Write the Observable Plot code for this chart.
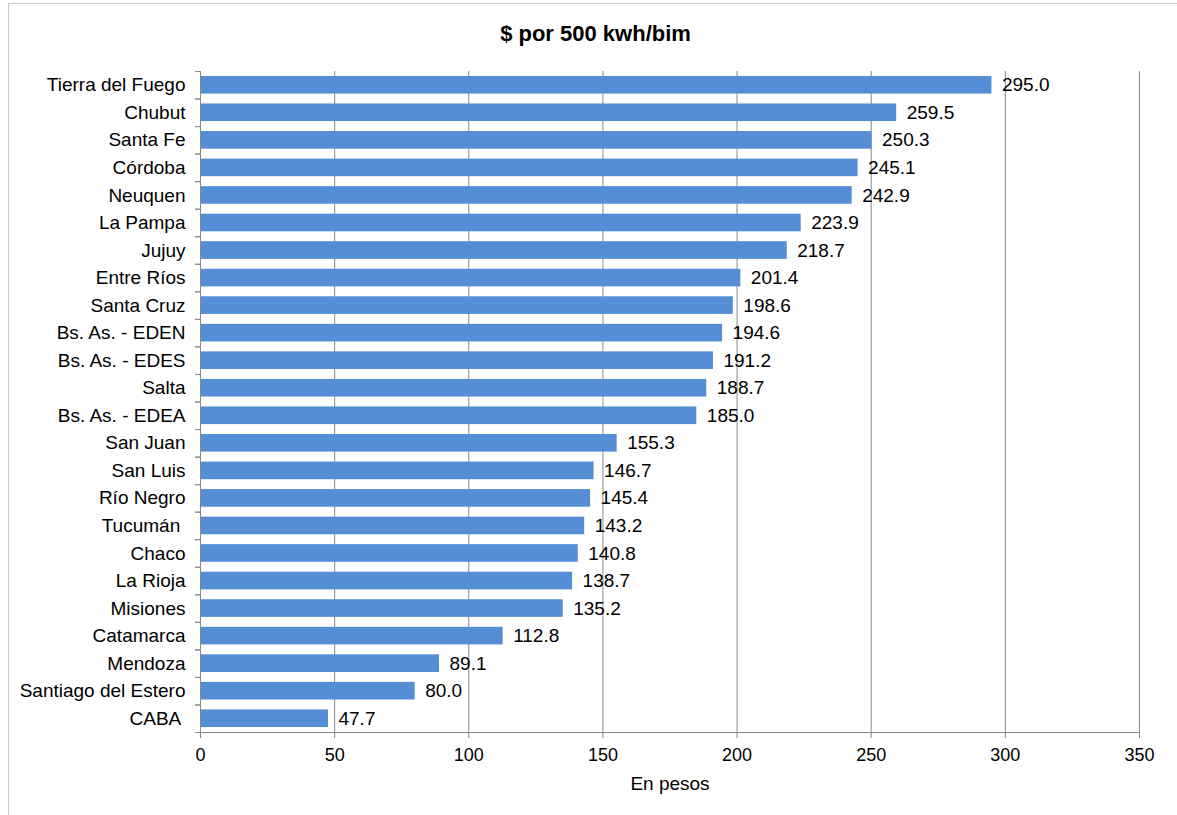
<!DOCTYPE html>
<html>
<head>
<meta charset="utf-8">
<script src="https://cdn.jsdelivr.net/npm/d3@7"></script>
<script src="https://cdn.jsdelivr.net/npm/@observablehq/plot@0.6"></script>
<style>
  html, body { margin: 0; padding: 0; background: #fff; }
  body { width: 1177px; height: 815px; position: relative; overflow: hidden; font-family: "Liberation Sans", Arial, sans-serif; }
  #frame { position: absolute; left: 8px; top: 3px; width: 1180px; height: 820px; border: 1px solid #c8c8c8; box-sizing: border-box; }
  #title { position: absolute; left: 8px; width: 1175px; top: 21px; line-height: 26px; text-align: center; font-weight: bold; font-size: 22px; color: #000; }
  #chart { position: absolute; left: 0; top: 55px; }
</style>
</head>
<body>
<div id="frame"></div>
<div id="title">$ por 500 kwh/bim</div>
<div id="chart"></div>
<script>
const provinces = ["Tierra del Fuego","Chubut","Santa Fe","Córdoba","Neuquen","La Pampa","Jujuy","Entre Ríos","Santa Cruz","Bs. As. - EDEN","Bs. As. - EDES","Salta","Bs. As. - EDEA","San Juan","San Luis","Río Negro","Tucumán ","Chaco","La Rioja","Misiones","Catamarca","Mendoza","Santiago del Estero","CABA "];
const values = [295.0,259.5,250.3,245.1,242.9,223.9,218.7,201.4,198.6,194.6,191.2,188.7,185.0,155.3,146.7,145.4,143.2,140.8,138.7,135.2,112.8,89.1,80.0,47.7];
const xTicks = [0,50,100,150,200,250,300,350];
const xLabel = "En pesos";

const data = provinces.map((p, i) => ({province: p, value: values[i]}));

const W = 1177, H = 760, mT = 16, mB = 83, mL = 200, mR = 38;
const step = (H - mT - mB) / provinces.length;
const gray = "#898989";

const chart = Plot.plot({
  width: W, height: H,
  marginTop: mT, marginBottom: mB, marginLeft: mL, marginRight: mR,
  style: {fontFamily: "Liberation Sans, Arial, sans-serif", fontSize: "18px", color: "#000", background: "transparent"},
  x: {domain: [0, 350]},
  y: {domain: provinces, paddingInner: 0.36, paddingOuter: 0.18, round: false},
  marks: [
    Plot.gridX(xTicks, {stroke: gray, strokeOpacity: 1}),
    Plot.barX(data, {x: "value", y: "province", fill: "#558ED5"}),
    Plot.text(data, {x: "value", y: "province", text: d => d.value.toFixed(1), textAnchor: "start", dx: 10, fontSize: 19, fill: "#000"}),
    Plot.ruleX([0], {stroke: gray}),
    Plot.ruleY([0], {y: () => provinces[provinces.length - 1], dy: step / 2, stroke: gray}),
    Plot.axisX(xTicks, {tickSize: 6, tickPadding: 10, stroke: gray, fontSize: 18, label: xLabel, labelAnchor: "center", labelArrow: "none", labelOffset: 57}),
    Plot.axisY({tickSize: 0, tickPadding: 15, fontSize: 19, label: null}),
    Plot.axisY({tickSize: 5, text: null, dy: -step / 2, stroke: gray, label: null}),
    Plot.axisY({tickSize: 5, text: null, dy: step / 2, stroke: gray, label: null})
  ]
});
chart.querySelectorAll("text").forEach(t => { if (t.textContent === xLabel) t.setAttribute("font-size", "19"); });
document.getElementById("chart").appendChild(chart);
</script>
</body>
</html>
